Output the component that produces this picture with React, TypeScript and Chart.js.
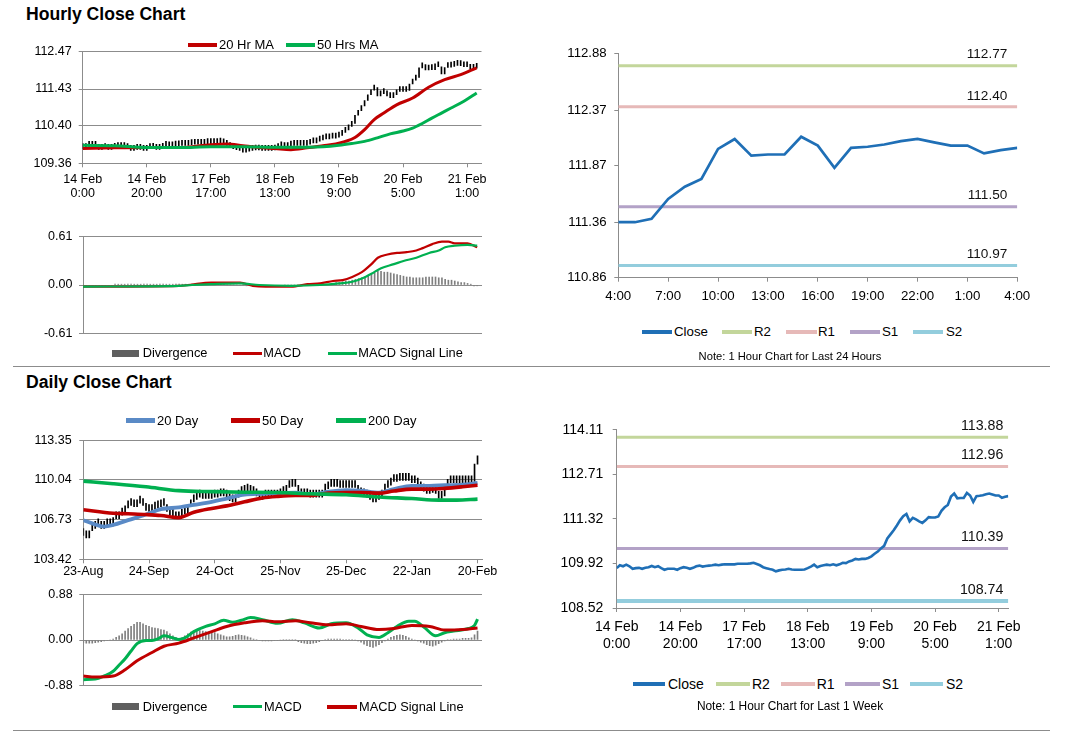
import React, { useEffect, useRef } from "react";
import { Chart, registerables } from "chart.js";
Chart.register(...registerables);

const FONT = '"Liberation Sans", Arial, Helvetica, sans-serif';
Chart.defaults.font.family = FONT;
Chart.defaults.color = "#000";

// ---------------- DATA ----------------
// Hourly closes, 14 Feb 0:00 .. 21 Feb 4:00 (124 hourly points)
const hourlyClose = [
  109.77, 109.86, 109.83, 109.88, 109.83, 109.75, 109.77, 109.78, 109.75, 109.78,
  109.80, 109.84, 109.80, 109.83, 109.77, 109.72, 109.75, 109.75, 109.75, 109.72,
  109.77, 109.80, 109.78, 109.75, 109.78, 109.83, 109.85, 109.82, 109.84, 109.85,
  109.86, 109.88, 109.86, 109.88, 109.89, 109.89, 109.89, 109.89, 109.91, 109.91,
  109.91, 109.91, 109.92, 109.94, 109.90, 109.86, 109.80, 109.77, 109.74, 109.72,
  109.67, 109.70, 109.72, 109.73, 109.75, 109.73, 109.72, 109.72, 109.72, 109.73,
  109.77, 109.82, 109.88, 109.80, 109.84, 109.86, 109.88, 109.86, 109.89, 109.86,
  109.89, 109.94, 109.93, 109.98, 110.01, 110.06, 110.04, 110.06, 110.06, 110.09,
  110.14, 110.22, 110.29, 110.39, 110.47, 110.70, 110.83, 110.96, 111.11, 111.27,
  111.40, 111.47, 111.24, 111.35, 111.30, 111.24, 111.19, 111.27, 111.37,
  111.36, 111.36, 111.39, 111.57, 111.68, 111.75, 112.02, 112.11, 111.96, 111.97,
  111.97, 112.13, 112.05, 111.85, 112.03, 112.04, 112.06, 112.09, 112.11, 112.08,
  112.05, 112.05, 111.98, 112.01, 112.03,
];
const hourlyTickIndex = [0, 20, 40, 60, 80, 100, 120];
const hourlyTickLabels = [
  ["14 Feb", "0:00"], ["14 Feb", "20:00"], ["17 Feb", "17:00"], ["18 Feb", "13:00"],
  ["19 Feb", "9:00"], ["20 Feb", "5:00"], ["21 Feb", "1:00"],
];
const hourlyMA20: [number, number][] = [
  [0, 109.77], [10, 109.79], [20, 109.80], [30, 109.80], [40, 109.88], [45, 109.90],
  [50, 109.85], [55, 109.80], [60, 109.77], [65, 109.74], [70, 109.79], [75, 109.85],
  [79, 109.90], [82, 109.97], [85, 110.08], [88, 110.30], [91, 110.58], [94, 110.76],
  [98, 110.99], [103, 111.18], [108, 111.48], [113, 111.69], [118, 111.83], [123, 112.02],
];
const hourlyMA50: [number, number][] = [
  [0, 109.86], [10, 109.85], [20, 109.80], [30, 109.80], [40, 109.82], [50, 109.82],
  [60, 109.81], [70, 109.81], [75, 109.82], [80, 109.86], [84, 109.91], [88, 109.97],
  [92, 110.07], [96, 110.18], [100, 110.26], [103, 110.34], [106, 110.47], [109, 110.62],
  [112, 110.76], [115, 110.90], [119, 111.09], [123, 111.32],
];
const hourlyMACD: [number, number][] = [
  [0, -0.02], [30, -0.01], [33, 0.0], [40, 0.03], [49, 0.03], [53, -0.01], [57, -0.02],
  [65, -0.02], [70, 0.01], [74, 0.02], [78, 0.05], [81, 0.06], [84, 0.10], [87, 0.16],
  [90, 0.26], [92, 0.34], [95, 0.38], [98, 0.40], [101, 0.41], [104, 0.43], [106, 0.46],
  [109, 0.51], [112, 0.54], [114, 0.54], [116, 0.52], [120, 0.52], [123, 0.47],
];
const hourlySignal: [number, number][] = [
  [0, -0.02], [30, -0.01], [34, 0.0], [40, 0.01], [49, 0.02], [55, 0.0], [65, -0.01],
  [74, 0.0], [80, 0.02], [84, 0.04], [87, 0.08], [90, 0.14], [93, 0.21], [97, 0.26],
  [100, 0.30], [104, 0.34], [108, 0.40], [111, 0.43], [113, 0.47], [116, 0.49], [120, 0.50],
  [123, 0.49],
];
const hourlyDivergence = [
  -0.01, -0.01, -0.01, -0.01, -0.01, -0.01, -0.01, -0.01, -0.01, -0.01,
  0.01, 0.01, 0.01, 0.01, 0.01, 0.01, 0.01, 0.01, 0.01, 0.01,
  0.01, 0.01, 0.01, 0.01, 0.01, 0.01, 0.01, 0.01, 0.01, 0.01,
  0.01, 0.01, 0.01, 0.01, 0.01, 0.01, 0.01, 0.01, 0.01, 0.01,
  0.01, 0.01, 0.01, 0.01, 0.01, 0.0, 0.0, 0.0, 0.0, 0.0,
  0.0, -0.01, -0.01, -0.01, -0.01, -0.01, -0.01, -0.01, -0.01, -0.01,
  -0.01, -0.01, -0.01, 0.0, 0.0, 0.0, 0.0, 0.0, 0.0, 0.0,
  0.0, 0.01, 0.01, 0.01, 0.01, 0.01, 0.01, 0.01,
  0.02, 0.03, 0.03, 0.04, 0.05, 0.05, 0.06, 0.07, 0.08, 0.09,
  0.10, 0.12, 0.13, 0.15, 0.17, 0.17, 0.16, 0.16, 0.15, 0.14,
  0.13, 0.12, 0.11, 0.10, 0.10, 0.09, 0.09, 0.09, 0.09, 0.10,
  0.10, 0.10, 0.10, 0.09, 0.09, 0.07, 0.06, 0.06, 0.05, 0.04,
  0.03, 0.03, 0.02, 0.01, -0.01, -0.01,
];
const hourlyYTicks = [109.36, 110.4, 111.43, 112.47];
const hourlyMacdTicks = [-0.61, 0, 0.61];

// Last 24 hours (slice of the hourly closes)
const last24Start = 99;
const last24Labels = [
  "4:00", "5:00", "6:00", "7:00", "8:00", "9:00", "10:00", "11:00", "12:00", "13:00",
  "14:00", "15:00", "16:00", "17:00", "18:00", "19:00", "20:00", "21:00", "22:00", "23:00",
  "0:00", "1:00", "2:00", "3:00", "4:00",
];
const last24TickIndex = [0, 3, 6, 9, 12, 15, 18, 21, 24];
const last24YTicks = [110.86, 111.36, 111.87, 112.37, 112.88];
const levelNames = ["R2", "R1", "S1", "S2"];
const last24Levels = [112.77, 112.4, 111.5, 110.97];
const weekYTicks = [108.52, 109.92, 111.32, 112.71, 114.11];
const weekLevels = [113.88, 112.96, 110.39, 108.74];

// Daily closes, 23-Aug .. 20-Feb (133 points)
const dailyClose = [
  105.4, 105.2, 105.8, 106.0, 106.3, 106.2, 106.0, 106.2, 106.3, 106.2,
  106.9, 106.8, 107.1, 107.3, 107.7, 107.9, 108.0, 107.8, 108.1, 108.2,
  107.9, 107.5, 107.4, 107.6, 107.7, 107.8, 108.0, 107.9, 107.4, 107.1,
  107.0, 106.8, 107.0, 107.2, 107.2, 107.8, 108.2, 108.4, 108.6, 108.6,
  108.5, 108.6, 108.5, 108.6, 108.6, 108.7, 108.8, 108.7, 108.6, 108.3,
  108.2, 108.6, 108.9, 109.0, 109.1, 109.2, 109.0, 108.9, 108.7, 108.4,
  108.6, 108.6, 108.6, 108.7, 108.6, 108.7, 108.9, 109.0, 109.4, 109.5,
  109.5, 109.5, 109.0, 108.7, 108.8, 108.7, 108.6, 108.6, 108.7, 108.6,
  109.1, 109.3, 109.5, 109.5, 109.6, 109.5, 109.4, 109.4, 109.4, 109.4,
  109.5, 109.4, 109.0, 108.8, 108.7, 108.6, 108.4, 108.2, 108.4, 108.6,
  109.1, 109.4, 109.6, 109.9, 109.9, 110.0, 110.0, 110.0, 110.1, 110.0,
  109.8, 109.8, 109.6, 109.3, 109.1, 108.9, 109.1, 109.0, 108.9, 108.5,
  108.7, 109.5, 109.8, 109.9, 109.8, 109.8, 109.8, 109.9, 109.8, 109.8,
  109.9, 111.35, 112.05,
];
const dailyTickIndex = [0, 22, 44, 66, 88, 110, 132];
const dailyTickLabels = ["23-Aug", "24-Sep", "24-Oct", "25-Nov", "25-Dec", "22-Jan", "20-Feb"];
const dailyMA20: [number, number][] = [
  [0, 106.68], [3, 106.41], [7, 106.15], [10, 106.28], [15, 106.68], [21, 107.15],
  [26, 107.6], [32, 107.74], [37, 107.95], [43, 108.21], [48, 108.48], [54, 108.8],
  [60, 108.88], [65, 108.93], [71, 108.98], [76, 108.8], [82, 109.06], [88, 109.19],
  [93, 109.14], [99, 108.98], [104, 109.27], [110, 109.54], [116, 109.54], [121, 109.59],
  [127, 109.64], [132, 109.78],
];
const dailyMA50: [number, number][] = [
  [0, 107.55], [10, 107.26], [15, 107.21], [21, 107.15], [26, 107.07], [32, 106.89],
  [37, 107.34], [43, 107.66], [48, 107.87], [54, 108.21], [60, 108.53], [65, 108.66],
  [71, 108.74], [76, 108.74], [82, 108.93], [88, 108.98], [93, 108.98], [99, 108.93],
  [104, 109.11], [110, 109.27], [116, 109.27], [121, 109.33], [127, 109.46], [132, 109.59],
];
const dailyMA200: [number, number][] = [
  [0, 109.93], [10, 109.72], [21, 109.46], [32, 109.14], [43, 109.06], [54, 109.01],
  [65, 108.98], [76, 108.88], [88, 108.8], [99, 108.61], [110, 108.48], [119, 108.35],
  [125, 108.35], [132, 108.43],
];
const dailyMACD: [number, number][] = [
  [0, -0.76], [4, -0.75], [7, -0.69], [10, -0.6], [12, -0.48], [14, -0.36], [16, -0.21],
  [18, -0.07], [21, -0.01], [23, -0.01], [25, 0.02], [27, 0.08], [30, 0.04], [32, 0.01],
  [34, 0.04], [37, 0.16], [41, 0.26], [44, 0.31], [47, 0.38], [50, 0.34], [53, 0.38],
  [56, 0.43], [60, 0.39], [65, 0.32], [70, 0.39], [74, 0.33], [79, 0.23], [83, 0.31],
  [88, 0.33], [92, 0.23], [95, 0.1], [99, 0.05], [102, 0.14], [105, 0.26], [109, 0.36],
  [111, 0.36], [114, 0.25], [118, 0.08], [121, 0.14], [124, 0.17], [129, 0.22],
  [131, 0.28], [132, 0.4],
];
const dailySignal: [number, number][] = [
  [0, -0.69], [4, -0.71], [10, -0.69], [14, -0.57], [18, -0.4], [23, -0.24], [27, -0.12],
  [32, -0.06], [37, 0.04], [43, 0.16], [48, 0.26], [54, 0.33], [60, 0.37], [65, 0.35],
  [71, 0.37], [76, 0.33], [82, 0.29], [88, 0.31], [93, 0.26], [99, 0.2], [104, 0.22],
  [110, 0.28], [116, 0.26], [121, 0.19], [127, 0.2], [132, 0.23],
];
const dailyDivergence = [
  -0.05, -0.06, -0.06, -0.06, -0.05, -0.04, -0.03, -0.02, -0.01, 0.0,
  0.02, 0.05, 0.08, 0.12, 0.17, 0.22, 0.26, 0.3, 0.34, 0.34,
  0.31, 0.28, 0.26, 0.24, 0.23, 0.22, 0.2, 0.19, 0.16, 0.12,
  0.08, 0.05, 0.02, 0.04,
  0.08, 0.12, 0.15, 0.17, 0.18, 0.18, 0.17, 0.16, 0.15, 0.15,
  0.14, 0.12, 0.1, 0.08, 0.06, 0.06, 0.07, 0.09, 0.1, 0.09,
  0.08, 0.06, 0.04, 0.02, 0.01,
  -0.01, -0.02, -0.02, -0.02, -0.02, -0.01, -0.01, 0.0,
  0.01, 0.01, 0.01, 0.01, 0.01,
  -0.03, -0.05, -0.06, -0.07, -0.07, -0.06, -0.05, -0.03, -0.01,
  0.01, 0.02, 0.02, 0.02, 0.02, 0.02, 0.01, 0.01, 0.01, 0.01, 0.0, -0.02,
  -0.04, -0.08, -0.11, -0.13, -0.14, -0.12, -0.09, -0.05, -0.02, 0.02,
  0.05, 0.07, 0.09, 0.1, 0.09, 0.07, 0.04, 0.02, 0.0, -0.02,
  -0.04, -0.06, -0.09, -0.11, -0.12, -0.1, -0.07, -0.04, -0.02,
  0.01, 0.01, 0.02, 0.02, 0.02, 0.03, 0.03, 0.03, 0.04, 0.1, 0.17,
];
const dailyYTicks = [103.42, 106.73, 110.04, 113.35];
const dailyMacdTicks = [-0.88, 0, 0.88];

// ---------------- STYLE ----------------
const AXIS = "#8c8c8c";
const RED = "#c00000";
const GREEN = "#00b050";
const MA_BLUE = "#5a8ac6";
const CLOSE_BLUE = "#1f6fb6";
const DIV_GRAY = "#7f7f7f";
const LEGEND_GRAY = "#5f5f5f";
const LEVEL_COLORS = ["#c3d69b", "#e6b9b8", "#b3a2c7", "#93cddd"];

type Frame = { cl: number; ct: number; cr: number; cb: number; pl: number; pt: number; pr: number; pb: number; xh: number };

const F1: Frame = { cl: 10, ct: 30, cr: 510, cb: 215, pl: 82.7, pt: 51.7, pr: 481.5, pb: 163.3, xh: 47 };
const F2: Frame = { cl: 10, ct: 222, cr: 510, cb: 348, pl: 83, pt: 234, pr: 482, pb: 335.3, xh: 0 };
const F3: Frame = { cl: 550, ct: 38, cr: 1045, cb: 310, pl: 618.3, pt: 53.3, pr: 1017.3, pb: 277.7, xh: 25 };
const F4: Frame = { cl: 10, ct: 425, cr: 510, cb: 590, pl: 83.3, pt: 435, pr: 482, pb: 559.3, xh: 22 };
const F5: Frame = { cl: 10, ct: 580, cr: 510, cb: 700, pl: 83.3, pt: 590.7, pr: 482, pb: 688.3, xh: 0 };
const F6: Frame = { cl: 550, ct: 412, cr: 1045, cb: 665, pl: 616.7, pt: 426.7, pr: 1008.3, pb: 608, xh: 47 };

function axisY(ticks: number[], f: Frame, size: number, pad: number, grid: boolean) {
  return {
    type: "linear",
    position: "left",
    min: ticks[0],
    max: ticks[ticks.length - 1],
    afterBuildTicks: (s: any) => {
      s.ticks = ticks.map((v) => ({ value: v }));
    },
    afterFit: (s: any) => {
      s.width = f.pl - f.cl;
    },
    ticks: {
      callback: (v: any) => Number(v).toFixed(2),
      font: { family: FONT, size },
      color: "#000",
      padding: pad,
      autoSkip: false,
    },
    grid: { color: AXIS, drawOnChartArea: grid, drawTicks: true, tickLength: 4, tickColor: AXIS, lineWidth: 1 },
    border: { color: AXIS, width: 1 },
  };
}

function axisX(min: number, max: number, tickVals: number[], labels: any[], f: Frame, size: number, pad: number, lineHeight: number, display = true) {
  return {
    type: "linear",
    position: "bottom",
    display,
    offset: false,
    min,
    max,
    afterBuildTicks: (s: any) => {
      s.ticks = tickVals.map((v) => ({ value: v }));
    },
    afterFit: (s: any) => {
      s.height = f.xh;
    },
    ticks: {
      callback: (_v: any, i: number) => labels[i],
      font: { family: FONT, size, lineHeight },
      color: "#000",
      padding: pad,
      autoSkip: false,
      maxRotation: 0,
      minRotation: 0,
    },
    grid: { offset: false, drawOnChartArea: false, drawTicks: true, tickLength: 4, tickColor: AXIS, color: AXIS },
    border: { color: AXIS, width: 1 },
  };
}

function baseOptions(f: Frame, x: any, y: any) {
  return {
    responsive: true,
    maintainAspectRatio: false,
    animation: false,
    events: [],
    layout: { padding: { left: 0, top: f.pt - f.ct, right: f.cr - f.pr, bottom: f.cb - f.pb - f.xh } },
    plugins: { legend: { display: false }, tooltip: { enabled: false } },
    scales: { x, y },
  };
}

const pts = (arr: [number, number][]) => arr.map(([x, y]) => ({ x, y }));
const series = (arr: number[]) => arr.map((y, x) => ({ x, y }));
const candles = (arr: number[]) => arr.map((c, i) => ({ x: i, y: [i > 0 ? arr[i - 1] : c, c] }));

function lineDs(label: string, data: any[], color: string, width: number, order: number, smooth = true) {
  return {
    type: "line",
    label,
    data,
    borderColor: color,
    backgroundColor: color,
    borderWidth: width,
    pointRadius: 0,
    fill: false,
    cubicInterpolationMode: smooth ? "monotone" : "default",
    tension: 0,
    order,
  };
}

function levelLabelPlugin(values: number[], size: number, inset: number) {
  return {
    id: "levelLabels",
    afterDatasetsDraw(chart: any) {
      const { ctx, chartArea, scales } = chart;
      ctx.save();
      ctx.font = `${size}px ${FONT}`;
      ctx.fillStyle = "#111";
      ctx.textAlign = "right";
      ctx.textBaseline = "middle";
      values.forEach((v) => {
        ctx.fillText(v.toFixed(2), chartArea.right - inset, scales.y.getPixelForValue(v) - 11);
      });
      ctx.restore();
    },
  };
}

// ---------------- CHART CONFIGS ----------------
function cfgHourlyCandles() {
  return {
    type: "bar",
    data: {
      datasets: [
        lineDs("50 Hrs MA", pts(hourlyMA50), GREEN, 3, 0),
        lineDs("20 Hr MA", pts(hourlyMA20), RED, 3, 1),
        { type: "bar", label: "Price", data: candles(hourlyClose), backgroundColor: "#000", barThickness: 1, minBarLength: 5, order: 2 },
      ],
    },
    options: baseOptions(
      F1,
      axisX(0, 124.5, hourlyTickIndex, hourlyTickLabels, F1, 12.5, 5.7, 1.12),
      axisY(hourlyYTicks, F1, 12.5, 7, true)
    ),
  };
}

function cfgHourlyMacd() {
  return {
    type: "bar",
    data: {
      datasets: [
        lineDs("MACD Signal Line", pts(hourlySignal), GREEN, 2.2, 0),
        lineDs("MACD", pts(hourlyMACD), RED, 2.2, 1),
        { type: "bar", label: "Divergence", data: series(hourlyDivergence), backgroundColor: DIV_GRAY, barThickness: 1, order: 2 },
      ],
    },
    options: baseOptions(
      F2,
      axisX(0, 124.5, hourlyTickIndex, hourlyTickLabels, F2, 12.5, 5, 1.12, false),
      axisY(hourlyMacdTicks, F2, 12.5, 6.6, true)
    ),
  };
}

function cfgLast24() {
  const closes = hourlyClose.slice(last24Start);
  const n = closes.length - 1;
  const levelDs = last24Levels.map((v, k) =>
    lineDs(levelNames[k], [{ x: 0, y: v }, { x: n, y: v }], LEVEL_COLORS[k], 3, 2 + k, false)
  );
  return {
    type: "line",
    data: { datasets: [lineDs("Close", series(closes), CLOSE_BLUE, 2.7, 0, false), ...levelDs] },
    options: baseOptions(
      F3,
      axisX(0, n, last24TickIndex, last24TickIndex.map((i) => last24Labels[i]), F3, 13.3, 7, 1.2),
      axisY(last24YTicks, F3, 13.2, 7.6, false)
    ),
    plugins: [levelLabelPlugin(last24Levels, 13.6, 10)],
  };
}

function cfgDailyCandles() {
  return {
    type: "bar",
    data: {
      datasets: [
        lineDs("200 Day", pts(dailyMA200), GREEN, 3.6, 0),
        lineDs("50 Day", pts(dailyMA50), RED, 3.6, 1),
        lineDs("20 Day", pts(dailyMA20), MA_BLUE, 3.8, 2),
        { type: "bar", label: "Price", data: candles(dailyClose), backgroundColor: "#000", barThickness: 1, minBarLength: 7, order: 3 },
      ],
    },
    options: baseOptions(
      F4,
      axisX(0, 133.5, dailyTickIndex, dailyTickLabels, F4, 12.5, 1, 1.2),
      axisY(dailyYTicks, F4, 12.5, 7.6, true)
    ),
  };
}

function cfgDailyMacd() {
  return {
    type: "bar",
    data: {
      datasets: [
        lineDs("MACD Signal Line", pts(dailySignal), RED, 3, 0),
        lineDs("MACD", pts(dailyMACD), GREEN, 3, 1),
        { type: "bar", label: "Divergence", data: series(dailyDivergence), backgroundColor: DIV_GRAY, barThickness: 1, order: 2 },
      ],
    },
    options: baseOptions(
      F5,
      axisX(0, 133.5, dailyTickIndex, dailyTickLabels, F5, 12.5, 1, 1.2, false),
      axisY(dailyMacdTicks, F5, 12.5, 6.6, true)
    ),
  };
}

function cfgWeek() {
  const n = hourlyClose.length - 1;
  const levelDs = weekLevels.map((v, k) =>
    lineDs(levelNames[k], [{ x: 0, y: v }, { x: n, y: v }], LEVEL_COLORS[k], k === 3 ? 4 : 3, 2 + k, false)
  );
  return {
    type: "line",
    data: { datasets: [lineDs("Close", series(hourlyClose), CLOSE_BLUE, 2.6, 0, false), ...levelDs] },
    options: baseOptions(
      F6,
      axisX(0, n, hourlyTickIndex, hourlyTickLabels, F6, 14, 6, 1.236),
      axisY(weekYTicks, F6, 14, 9.4, false)
    ),
    plugins: [levelLabelPlugin(weekLevels, 14.2, 5)],
  };
}

// ---------------- COMPONENTS ----------------
function ChartPanel({ f, build }: { f: Frame; build: () => any }) {
  const ref = useRef<HTMLCanvasElement | null>(null);
  useEffect(() => {
    const chart = new Chart(ref.current as HTMLCanvasElement, build() as any);
    return () => chart.destroy();
  }, []);
  return (
    <div style={{ position: "absolute", left: f.cl, top: f.ct, width: f.cr - f.cl, height: f.cb - f.ct }}>
      <canvas ref={ref} />
    </div>
  );
}

function Txt({ x, y, size, text, bold = false, center = false }: { x: number; y: number; size: number; text: string; bold?: boolean; center?: boolean }) {
  const h = Math.ceil(size * 2);
  return (
    <div
      style={{
        position: "absolute",
        left: x,
        top: y - h / 2,
        height: h,
        lineHeight: `${h}px`,
        fontSize: size,
        fontFamily: FONT,
        fontWeight: bold ? 700 : 400,
        whiteSpace: "nowrap",
        color: "#000",
        transform: center ? "translateX(-50%)" : undefined,
      }}
    >
      {text}
    </div>
  );
}

type LegItem = { label: string; color: string; sx: number; sw: number; sh: number; tx: number };

function Legend({ y, size, items }: { y: number; size: number; items: LegItem[] }) {
  return (
    <>
      {items.map((it) => (
        <React.Fragment key={it.label}>
          <div style={{ position: "absolute", left: it.sx, top: y - it.sh / 2, width: it.sw, height: it.sh, background: it.color }} />
          <Txt x={it.tx} y={y} size={size} text={it.label} />
        </React.Fragment>
      ))}
    </>
  );
}

export default function App() {
  return (
    <div style={{ position: "absolute", left: 0, top: 0, width: 1066, height: 733, background: "#fff", overflow: "hidden", fontFamily: FONT }}>
      <Txt x={26} y={14.2} size={17.6} text="Hourly Close Chart" bold />
      <Txt x={26} y={382} size={17.6} text="Daily Close Chart" bold />

      <ChartPanel f={F1} build={cfgHourlyCandles} />
      <ChartPanel f={F2} build={cfgHourlyMacd} />
      <ChartPanel f={F3} build={cfgLast24} />
      <ChartPanel f={F4} build={cfgDailyCandles} />
      <ChartPanel f={F5} build={cfgDailyMacd} />
      <ChartPanel f={F6} build={cfgWeek} />

      <Legend
        y={44.7}
        size={13}
        items={[
          { label: "20 Hr MA", color: RED, sx: 188, sw: 28.7, sh: 4, tx: 219 },
          { label: "50 Hrs MA", color: GREEN, sx: 286, sw: 29, sh: 4, tx: 317 },
        ]}
      />
      <Legend
        y={353.3}
        size={12.8}
        items={[
          { label: "Divergence", color: LEGEND_GRAY, sx: 111.7, sw: 27.6, sh: 7, tx: 142.7 },
          { label: "MACD", color: RED, sx: 233, sw: 28.7, sh: 3, tx: 263.3 },
          { label: "MACD Signal Line", color: GREEN, sx: 328, sw: 28.7, sh: 3, tx: 358.3 },
        ]}
      />
      <Legend
        y={331.7}
        size={13.3}
        items={[
          { label: "Close", color: CLOSE_BLUE, sx: 641.7, sw: 30, sh: 4, tx: 674 },
          { label: "R2", color: LEVEL_COLORS[0], sx: 721.7, sw: 30, sh: 4, tx: 754 },
          { label: "R1", color: LEVEL_COLORS[1], sx: 786, sw: 31, sh: 4, tx: 818 },
          { label: "S1", color: LEVEL_COLORS[2], sx: 850, sw: 30, sh: 4, tx: 882 },
          { label: "S2", color: LEVEL_COLORS[3], sx: 913, sw: 30, sh: 4, tx: 946 },
        ]}
      />
      <Txt x={790} y={356} size={11.2} text="Note: 1 Hour Chart for Last 24 Hours" center />
      <Legend
        y={420.7}
        size={13}
        items={[
          { label: "20 Day", color: MA_BLUE, sx: 126, sw: 29, sh: 5, tx: 157 },
          { label: "50 Day", color: RED, sx: 231, sw: 29, sh: 5, tx: 262 },
          { label: "200 Day", color: GREEN, sx: 336, sw: 30, sh: 5, tx: 368 },
        ]}
      />
      <Legend
        y={706.7}
        size={12.8}
        items={[
          { label: "Divergence", color: LEGEND_GRAY, sx: 111.7, sw: 27.6, sh: 7, tx: 142.7 },
          { label: "MACD", color: GREEN, sx: 233, sw: 28.7, sh: 3, tx: 264 },
          { label: "MACD Signal Line", color: RED, sx: 326.7, sw: 30, sh: 4, tx: 359 },
        ]}
      />
      <Legend
        y={684}
        size={14}
        items={[
          { label: "Close", color: CLOSE_BLUE, sx: 633, sw: 32, sh: 4, tx: 668 },
          { label: "R2", color: LEVEL_COLORS[0], sx: 716, sw: 34, sh: 4, tx: 752 },
          { label: "R1", color: LEVEL_COLORS[1], sx: 780.7, sw: 34.3, sh: 4, tx: 816.7 },
          { label: "S1", color: LEVEL_COLORS[2], sx: 845, sw: 35, sh: 4, tx: 882 },
          { label: "S2", color: LEVEL_COLORS[3], sx: 910, sw: 33, sh: 4, tx: 946 },
        ]}
      />
      <Txt x={790} y={706} size={11.9} text="Note: 1 Hour Chart for Last 1 Week" center />

      <div style={{ position: "absolute", left: 13, top: 365.5, width: 1037, height: 1, background: AXIS }} />
      <div style={{ position: "absolute", left: 13, top: 729.5, width: 1037, height: 1, background: AXIS }} />
    </div>
  );
}
